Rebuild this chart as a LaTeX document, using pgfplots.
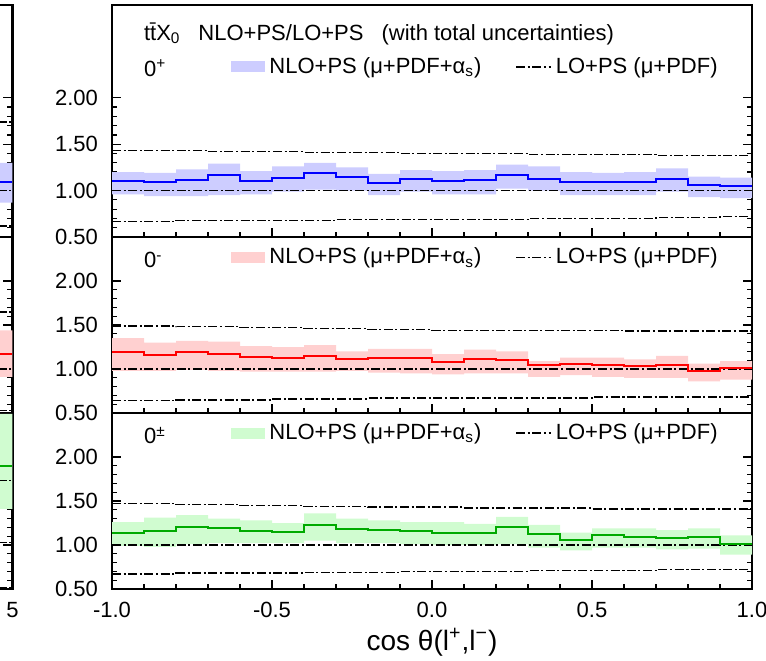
\documentclass[border=0pt]{standalone}
\usepackage{fontspec}
\setmainfont{Liberation Sans}
\usepackage{pgfplots}
\pgfplotsset{compat=1.18}
\usepackage{pgfplotstable}
\usepgfplotslibrary{fillbetween}

\definecolor{bandblue}{RGB}{205,205,255}
\definecolor{bandred}{RGB}{255,208,208}
\definecolor{bandgreen}{RGB}{208,252,208}
\definecolor{lineblue}{RGB}{0,0,255}
\definecolor{linered}{RGB}{255,0,0}
\definecolor{linegreen}{RGB}{0,170,0}

% bins of cos theta: low edge, NLO central, NLO up, NLO down, LO up, LO central, LO down
\pgfplotstableread{
x c up lo LOu LOm LOl
-1.0 1.10 1.20 0.96 1.43 1.00 0.67
-0.9 1.09 1.19 0.94 1.43 1.00 0.67
-0.8 1.11 1.23 0.94 1.43 1.00 0.68
-0.7 1.17 1.29 0.95 1.42 1.00 0.68
-0.6 1.10 1.21 0.96 1.42 1.00 0.68
-0.5 1.14 1.26 0.99 1.42 1.00 0.68
-0.4 1.19 1.30 1.01 1.41 1.00 0.68
-0.3 1.15 1.25 1.00 1.41 1.00 0.69
-0.2 1.08 1.18 0.95 1.41 1.00 0.69
-0.1 1.13 1.22 0.99 1.40 1.00 0.69
0.0 1.10 1.21 0.96 1.40 1.00 0.69
0.1 1.11 1.22 0.96 1.40 1.00 0.69
0.2 1.17 1.28 1.02 1.40 1.00 0.69
0.3 1.13 1.26 1.00 1.39 1.00 0.70
0.4 1.09 1.20 0.95 1.39 1.00 0.70
0.5 1.09 1.19 0.95 1.39 1.00 0.70
0.6 1.09 1.20 0.95 1.39 1.00 0.70
0.7 1.12 1.24 0.99 1.38 1.00 0.71
0.8 1.06 1.15 0.93 1.38 1.00 0.71
0.9 1.05 1.14 0.92 1.38 1.00 0.72
1.0 1.05 1.14 0.92 1.38 1.00 0.72
}\tabplus

\pgfplotstableread{
x c up lo LOu LOm LOl
-1.0 1.19 1.35 0.98 1.49 1.00 0.64
-0.9 1.16 1.30 0.98 1.49 1.00 0.64
-0.8 1.19 1.32 0.99 1.48 1.00 0.65
-0.7 1.17 1.31 0.98 1.48 1.00 0.65
-0.6 1.14 1.26 0.97 1.47 1.00 0.65
-0.5 1.13 1.25 0.97 1.47 1.00 0.66
-0.4 1.15 1.27 0.97 1.46 1.00 0.66
-0.3 1.11 1.20 0.98 1.46 1.00 0.66
-0.2 1.13 1.23 0.96 1.45 1.00 0.67
-0.1 1.12 1.23 0.95 1.45 1.00 0.67
0.0 1.08 1.17 0.94 1.44 1.00 0.67
0.1 1.11 1.22 0.95 1.44 1.00 0.67
0.2 1.10 1.20 0.95 1.44 1.00 0.67
0.3 1.04 1.09 0.91 1.44 1.00 0.67
0.4 1.06 1.13 0.93 1.44 1.00 0.67
0.5 1.05 1.13 0.91 1.44 1.00 0.68
0.6 1.03 1.11 0.90 1.43 1.00 0.68
0.7 1.05 1.15 0.90 1.43 1.00 0.68
0.8 0.98 1.06 0.86 1.43 1.00 0.68
0.9 1.01 1.09 0.88 1.43 1.00 0.68
1.0 1.01 1.09 0.88 1.43 1.00 0.68
}\tabminus

\pgfplotstableread{
x c up lo LOu LOm LOl
-1.0 1.14 1.26 0.99 1.47 1.00 0.67
-0.9 1.16 1.31 0.98 1.47 1.00 0.67
-0.8 1.20 1.34 1.01 1.46 1.00 0.68
-0.7 1.19 1.30 1.02 1.46 1.00 0.68
-0.6 1.16 1.28 1.02 1.45 1.00 0.68
-0.5 1.15 1.25 1.02 1.45 1.00 0.68
-0.4 1.23 1.36 1.05 1.44 1.00 0.69
-0.3 1.18 1.30 1.02 1.44 1.00 0.69
-0.2 1.17 1.28 1.02 1.43 1.00 0.69
-0.1 1.16 1.26 1.01 1.43 1.00 0.70
0.0 1.14 1.26 1.00 1.43 1.00 0.70
0.1 1.14 1.24 1.00 1.42 1.00 0.70
0.2 1.20 1.32 1.01 1.42 1.00 0.70
0.3 1.12 1.23 0.97 1.42 1.00 0.71
0.4 1.06 1.14 0.94 1.42 1.00 0.71
0.5 1.11 1.19 0.97 1.41 1.00 0.71
0.6 1.09 1.19 0.97 1.41 1.00 0.71
0.7 1.08 1.17 0.95 1.41 1.00 0.72
0.8 1.09 1.19 0.96 1.41 1.00 0.72
0.9 1.01 1.11 0.89 1.41 1.00 0.72
1.0 1.01 1.11 0.89 1.41 1.00 0.72
}\tabpm

% last bins of the neighbouring panel on the left (only a sliver is visible)
\pgfplotstableread{
x c up lo LOu LOm LOl
4.0 1.09 1.30 0.87 1.74 1.00 0.62
5.0 1.09 1.30 0.87 1.74 1.00 0.62
}\leftplus
\pgfplotstableread{
x c up lo LOu LOm LOl
4.0 1.17 1.44 0.91 1.65 1.00 0.53
5.0 1.17 1.44 0.91 1.65 1.00 0.53
}\leftminus
\pgfplotstableread{
x c up lo LOu LOm LOl
4.0 1.90 2.49 1.41 1.73 1.03 0.51
5.0 1.90 2.49 1.41 1.73 1.03 0.51
}\leftpm

\newcommand\fs{\fontsize{11}{13}\selectfont}

\pgfplotsset{
  panel/.style={
    scale only axis, width=320pt,
    ymin=0.5,
    axis line style={line width=1.1pt},
    every tick/.style={black, line width=0.6pt},
    major tick length=4.5pt, minor tick length=2.5pt,
    tick align=inside,
    xtick pos=lower, ytick pos=both,
    ytick={0.5,1,1.5,2}, minor y tick num=4,
    tick label style={font=\fs},
    yticklabel style={xshift=-3.5pt, /pgf/number format/fixed,
      /pgf/number format/fixed zerofill, /pgf/number format/precision=2,
      /pgf/number format/assume math mode=true},
    xticklabel style={yshift=-3pt, /pgf/number format/fixed,
      /pgf/number format/fixed zerofill, /pgf/number format/precision=1,
      /pgf/number format/assume math mode=true},
    legend style={draw=none, fill=none, inner sep=0pt, font=\fs,
      legend columns=2, anchor=west,
      /tikz/every even column/.append style={column sep=15pt}},
    legend cell align=left,
  },
  rightpanel/.style={panel, xmin=-1, xmax=1,
    xtick={-1,-0.5,0,0.5,1}, minor x tick num=4},
  leftpanel/.style={panel, xmin=0, xmax=5, xtick={0,1,2,3,4,5},
    yticklabels={}},
  bandleg/.style={legend image code/.code={\fill[##1] (0pt,-2.75pt) rectangle (17pt,2.75pt);}},
  lineleg/.style={legend image code/.code={\draw[##1] (0pt,0pt) -- (17.5pt,0pt);}},
  LOline/.style={black, line width=0.7pt, dash pattern=on 4.5pt off 1.3pt on 1pt off 1.3pt, const plot},
}

% #1 table, #2 band colour, #3 line colour
\newcommand\ratioplots[3]{%
  \addplot[draw=none, const plot, name path=up, forget plot] table[x=x, y=up] {#1};
  \addplot[draw=none, const plot, name path=lo, forget plot] table[x=x, y=lo] {#1};
  \addplot[fill=#2, draw=none, forget plot] fill between[of=up and lo];
  \addplot[LOline, forget plot] table[x=x, y=LOu] {#1};
  \addplot[LOline, forget plot] table[x=x, y=LOm] {#1};
  \addplot[LOline, forget plot] table[x=x, y=LOl] {#1};
  \addplot[#3, line width=1pt, const plot, forget plot] table[x=x, y=c] {#1};
}

\begin{document}
\begin{tikzpicture}

% neighbouring panel, cut by the left edge of the picture
\begin{axis}[leftpanel, at={(-313.75pt,211.5pt)}, anchor=south west,
  height=116pt, ymax=3.0, xticklabels={}]
\ratioplots{\leftplus}{bandblue}{lineblue}
\end{axis}
\begin{axis}[leftpanel, at={(-313.75pt,123.5pt)}, anchor=south west,
  height=88pt, ymax=2.5, xticklabels={}]
\ratioplots{\leftminus}{bandred}{linered}
\end{axis}
\begin{axis}[leftpanel, at={(-313.75pt,35.5pt)}, anchor=south west,
  height=88pt, ymax=2.5, xticklabels={,,,,,5}]
\ratioplots{\leftpm}{bandgreen}{linegreen}
\end{axis}

% 0+
\begin{axis}[rightpanel, at={(56pt,211.5pt)}, anchor=south west,
  height=116pt, ymax=3.0, xticklabels={},
  legend style={at={(0.186,0.733)}}]
\ratioplots{\tabplus}{bandblue}{lineblue}
\addlegendimage{bandleg, fill=bandblue, draw=none}
\addlegendentry{NLO+PS (μ+PDF+α\textsubscript{s})}
\addlegendimage{lineleg, LOline}
\addlegendentry{LO+PS (μ+PDF)}
\node[anchor=base west, font=\fs] at (rel axis cs:0.039,0.849)
  {t\={t}X\textsubscript{0}\hspace{9pt}NLO+PS/LO+PS\hspace{9pt}(with total uncertainties)};
\node[anchor=base west, font=\fs] at (rel axis cs:0.039,0.690) {0\textsuperscript{+}};
\end{axis}

% 0-
\begin{axis}[rightpanel, at={(56pt,123.5pt)}, anchor=south west,
  height=88pt, ymax=2.5, xticklabels={},
  legend style={at={(0.186,0.884)}}]
\ratioplots{\tabminus}{bandred}{linered}
\addlegendimage{bandleg, fill=bandred, draw=none}
\addlegendentry{NLO+PS (μ+PDF+α\textsubscript{s})}
\addlegendimage{lineleg, LOline}
\addlegendentry{LO+PS (μ+PDF)}
\node[anchor=base west, font=\fs] at (rel axis cs:0.039,0.824) {0\textsuperscript{-}};
\end{axis}

% 0+-
\begin{axis}[rightpanel, at={(56pt,35.5pt)}, anchor=south west,
  height=88pt, ymax=2.5,
  xlabel={cos θ(l\textsuperscript{+},l\textsuperscript{−})},
  xlabel style={font=\fontsize{14}{16}\selectfont, yshift=1.5pt},
  legend style={at={(0.186,0.886)}}]
\ratioplots{\tabpm}{bandgreen}{linegreen}
\addlegendimage{bandleg, fill=bandgreen, draw=none}
\addlegendentry{NLO+PS (μ+PDF+α\textsubscript{s})}
\addlegendimage{lineleg, LOline}
\addlegendentry{LO+PS (μ+PDF)}
\node[anchor=base west, font=\fs] at (rel axis cs:0.039,0.824) {0\textsuperscript{±}};
\end{axis}

\pgfresetboundingbox
\path[use as bounding box] (0,0) rectangle (383pt,330pt);
\end{tikzpicture}
\end{document}
